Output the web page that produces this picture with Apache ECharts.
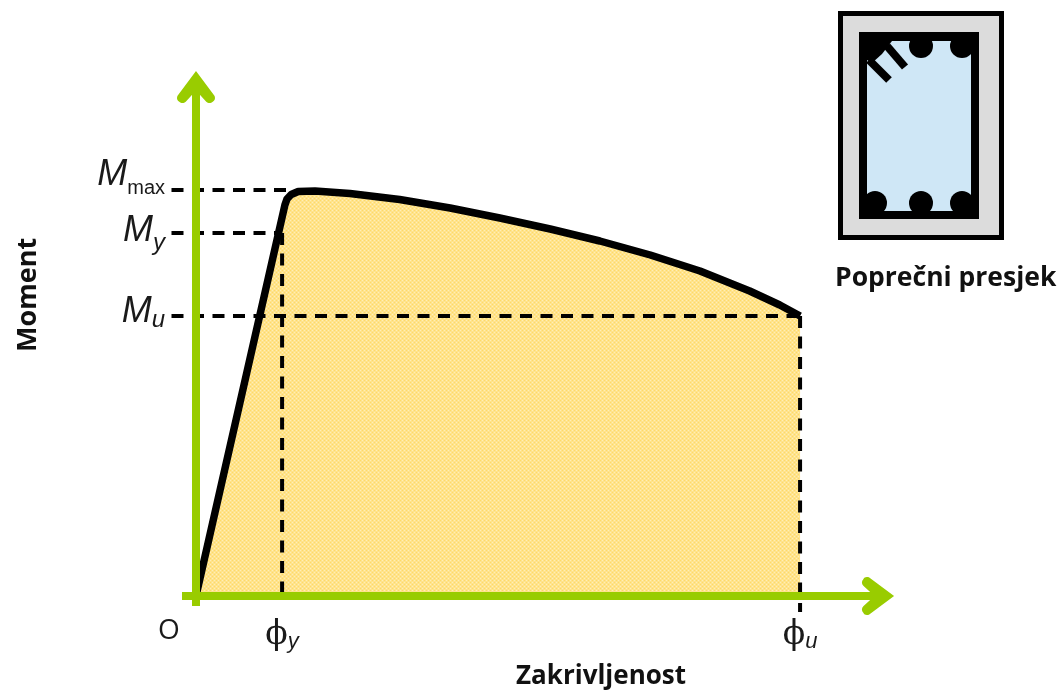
<!DOCTYPE html>
<html lang="hr">

<head>
    <meta charset="UTF-8">
    <title>Moment - zakrivljenost</title>
    <style>
        html, body { margin: 0; padding: 0; background: #fff; }
        #myChart { width: 1059px; height: 692px; }
    </style>
</head>

<body>
    <div id="myChart"></div>
    <script src="https://cdn.jsdelivr.net/npm/echarts@6/dist/echarts.min.js"></script>
    <script>
// curve
var curvature = [0, 12.7, 13.0, 13.6, 14.6, 17, 22, 29.1, 36.3, 43.4, 50.6, 57.7, 64.9, 72, 79.1, 83.4, 86.3];
var moment = [0, 78.2, 79.4, 80.3, 80.9, 81, 80.5, 79.3, 77.6, 75.6, 73.4, 71, 68.2, 65, 61, 58.2, 56];

// marked values
var phiY = 12.3, phiU = 86.3;
var mMax = 81.2, mY = 72.6, mU = 56;
var dashFromX = -3.5, dashToYShort = -1, dashToYLong = -3.2;
var mMaxEndX = 13.5, mYEndX = 11.5;

var xTicks = [0, phiY, phiU];
var yTicks = [mU, mY, mMax];
var xTickLabels = ['{o|O}', '{phi|\u03D5}{sub|y}', '{phi|\u03D5}{sub|u}'];
var yTickLabels = ['{mu|M}{subu|u}', '{my|M}{suby|y}', '{mm|M}{max|max}'];

var green = '#99CC00';
var chevron = 'path://M18 0 L38 27 C39 30 38 32 36 33 C34 35 31 35 29 33 L18 21 L7 33 C5 35 2 35 0 33 C-2 32 -3 30 -2 27 Z';

// dithered yellow like the picture
function ditherPattern() {
    var c = document.createElement('canvas');
    c.width = 4; c.height = 4;
    var ctx = c.getContext('2d');
    ctx.fillStyle = '#FFE38C';
    ctx.fillRect(0, 0, 4, 4);
    ctx.fillStyle = '#FFDA66';
    ctx.fillRect(0, 0, 1, 1); ctx.fillRect(2, 2, 1, 1);
    ctx.fillStyle = '#FFEEB8';
    ctx.fillRect(2, 0, 1, 1); ctx.fillRect(0, 2, 1, 1);
    return c;
}

// dashes run past the axes, so they sit on a second, wider grid with the same scale
function dashSeries(points) {
    return {
        type: 'line',
        xAxisIndex: 1,
        yAxisIndex: 1,
        data: points,
        symbol: 'none',
        silent: true,
        z: 3,
        lineStyle: { color: '#000', width: 4, type: [12, 8.5], cap: 'butt' }
    };
}

var myChart = echarts.init(document.getElementById('myChart'), null, { renderer: 'canvas' });

var options = {
    animation: false,
    backgroundColor: '#fff',
    grid: [
        { left: 182, top: 81, width: 702, height: 525 },
        { left: 168, top: 81, width: 716, height: 535 }
    ],
    xAxis: [{
        type: 'value',
        min: -2,
        max: 98.29,
        z: 4,
        splitLine: { show: false },
        axisTick: { show: false },
        axisLine: {
            onZero: true,
            symbol: ['none', chevron],
            symbolSize: [38, 36],
            symbolOffset: [0, -6],
            lineStyle: { color: green, width: 8, cap: 'butt' }
        },
        axisLabel: {
            customValues: xTicks,
            margin: 11,
            formatter: function (v) { return xTickLabels[xTicks.indexOf(v)]; },
            rich: {
                o: { fontFamily: 'Open Sans', fontSize: 28, color: '#1a1a1a', padding: [0, 54, 0, 0] },
                phi: { fontFamily: 'DejaVu Serif', fontSize: 33, color: '#1a1a1a' },
                sub: { fontFamily: 'Liberation Sans', fontStyle: 'italic', fontSize: 22, color: '#1a1a1a', padding: [14, 0, 0, 0] }
            }
        }
    }, {
        type: 'value',
        gridIndex: 1,
        min: -4,
        max: 98.29,
        show: false
    }],
    yAxis: [{
        type: 'value',
        min: -2,
        max: 103,
        z: 4,
        splitLine: { show: false },
        axisTick: { show: false },
        axisLine: {
            onZero: true,
            symbol: ['none', chevron],
            symbolSize: [38, 36],
            symbolOffset: [0, -6],
            lineStyle: { color: green, width: 8, cap: 'butt' }
        },
        axisLabel: {
            customValues: yTicks,
            margin: 17,
            formatter: function (v) { return yTickLabels[yTicks.indexOf(v)]; },
            rich: {
                mm: { fontFamily: 'Liberation Sans', fontStyle: 'italic', fontSize: 36, color: '#1a1a1a', padding: [0, 0, 30, 0] },
                max: { fontFamily: 'Liberation Sans', fontSize: 20, color: '#1a1a1a', padding: [0, 0, 4, 0] },
                my: { fontFamily: 'Liberation Sans', fontStyle: 'italic', fontSize: 36, color: '#1a1a1a', padding: [0, 0, 4, 0] },
                suby: { fontFamily: 'Liberation Sans', fontStyle: 'italic', fontSize: 24, color: '#1a1a1a', padding: [20, 0, 0, 0] },
                mu: { fontFamily: 'Liberation Sans', fontStyle: 'italic', fontSize: 36, color: '#1a1a1a', padding: [0, 0, 8, 0] },
                subu: { fontFamily: 'Liberation Sans', fontStyle: 'italic', fontSize: 24, color: '#1a1a1a', padding: [8, 0, 0, 0] }
            }
        }
    }, {
        type: 'value',
        gridIndex: 1,
        min: -4,
        max: 103,
        show: false
    }],
    series: [
        {
            type: 'line',
            data: curvature.map(function (c, i) { return [c, moment[i]]; }),
            symbol: 'none',
            z: 2,
            lineStyle: { color: '#000', width: 7.5, join: 'round' },
            areaStyle: { color: { image: ditherPattern(), repeat: 'repeat' }, opacity: 1 }
        },
        dashSeries([[dashFromX, mMax], [mMaxEndX, mMax]]),
        dashSeries([[dashFromX, mY], [mYEndX, mY]]),
        dashSeries([[dashFromX, mU], [phiU, mU]]),
        dashSeries([[phiY, mY], [phiY, dashToYShort]]),
        dashSeries([[phiU, mU], [phiU, dashToYLong]])
    ],
    graphic: [
        // axis titles
        { type: 'text', left: 516, top: 664, style: { text: 'Zakrivljenost', font: 'bold 26px "Open Sans"', fill: '#111' } },
        { type: 'text', x: 15, y: 352, rotation: Math.PI / 2, style: { text: 'Moment', font: 'bold 27px "Open Sans"', fill: '#111' } },
        { type: 'text', left: 835, top: 265, style: { text: 'Popre\u010Dni presjek', font: 'bold 26.5px "Open Sans"', fill: '#111' } },
        // cross section drawing
        { type: 'rect', shape: { x: 840.5, y: 13.5, width: 161, height: 224 }, style: { fill: '#DCDCDC', stroke: '#000', lineWidth: 5 } },
        { type: 'rect', shape: { x: 859, y: 32, width: 120, height: 187 }, style: { fill: '#000' } },
        { type: 'rect', shape: { x: 867, y: 41, width: 104, height: 170 }, style: { fill: '#CFE7F6' } },
        { type: 'polygon', shape: { points: [[867, 41], [892, 41], [882, 54], [872, 63], [867, 60]] }, style: { fill: '#000' } },
        { type: 'line', shape: { x1: 869, y1: 60, x2: 889, y2: 80 }, style: { stroke: '#000', lineWidth: 8 } },
        { type: 'line', shape: { x1: 887, y1: 46, x2: 905, y2: 67 }, style: { stroke: '#000', lineWidth: 8 } },
        { type: 'circle', shape: { cx: 921, cy: 46, r: 12 }, style: { fill: '#000' } },
        { type: 'circle', shape: { cx: 962, cy: 46, r: 12 }, style: { fill: '#000' } },
        { type: 'circle', shape: { cx: 875, cy: 203, r: 12 }, style: { fill: '#000' } },
        { type: 'circle', shape: { cx: 921, cy: 203, r: 12 }, style: { fill: '#000' } },
        { type: 'circle', shape: { cx: 962, cy: 203, r: 12 }, style: { fill: '#000' } }
    ]
};

myChart.setOption(options);
    </script>
</body>

</html>
